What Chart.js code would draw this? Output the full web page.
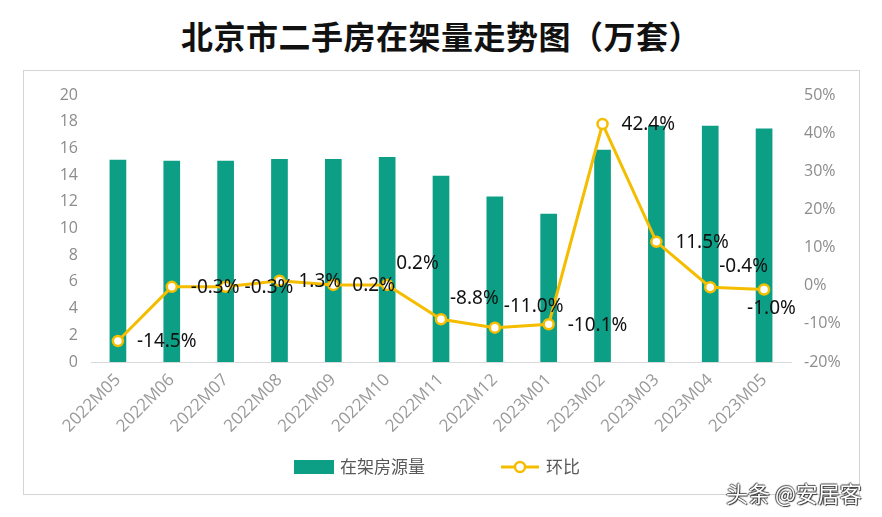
<!DOCTYPE html>
<html>
<head>
<meta charset="utf-8">
<script src="https://cdn.jsdelivr.net/npm/chart.js@4.4.0/dist/chart.umd.min.js"></script>
<style>
    body { margin: 0; width: 882px; height: 517px; background: #fff; position: relative; overflow: hidden; }
    #title { position: absolute; left: 0; top: 12px; width: 882px; text-align: center; font: bold 32px "Noto Sans CJK SC", sans-serif; color: #111; letter-spacing: 0.5px; }
    #box { position: absolute; left: 23px; top: 70px; width: 835px; height: 423px; border: 1px solid #d4d4d4; }
    #mark { position: absolute; left: 726px; top: 476px; font: 22px "Noto Sans CJK SC", sans-serif; color: #fff; text-shadow: 1px 1px 1px #333, -1px 0 1px #333, 0 -1px 1px #555; }
</style>
</head>
<body>
<div id="title">北京市二手房在架量走势图（万套）</div>
<div id="box"><canvas id="chart" width="835" height="423"></canvas></div>
<div id="mark">头条 @安居客</div>
<script>
const months = ['2022M05', '2022M06', '2022M07', '2022M08', '2022M09', '2022M10', '2022M11',
    '2022M12', '2023M01', '2023M02', '2023M03', '2023M04', '2023M05'];
const listings = [15.15, 15.07, 15.07, 15.2, 15.2, 15.35, 13.95, 12.4, 11.1, 15.9, 17.7, 17.7, 17.5];
const momChange = [-14.5, -0.3, -0.3, 1.3, 0.2, 0.2, -8.8, -11.0, -10.1, 42.4, 11.5, -0.4, -1.0];
const seriesNames = ['在架房源量', '环比'];

const green = '#0c9f85';
const yellow = '#f5bd00';

// where each percentage label sits next to its point
const labelSpots = ['r', 'r', 'r', 'r', 'r', 'a', 'a', 'a', 'r', 'r', 'r', 'a', 'b'];

const pctLabels = {
    id: 'pctLabels',
    afterDatasetsDraw(chart) {
        const ctx = chart.ctx;
        const meta = chart.getDatasetMeta(1);
        ctx.save();
        ctx.font = '19px "Noto Sans", sans-serif';
        ctx.fillStyle = '#111';
        ctx.textBaseline = 'middle';
        meta.data.forEach((pt, i) => {
            const txt = momChange[i].toFixed(1) + '%';
            let x = pt.x + 19, y = pt.y + 1;
            ctx.textAlign = 'left';
            if (labelSpots[i] === 'a') { x = pt.x + 9; y = pt.y - 21; }
            if (labelSpots[i] === 'b') { x = pt.x - 17; y = pt.y + 19; }
            ctx.fillText(txt, x, y);
        });
        ctx.restore();
    }
};

const legendDraw = {
    id: 'legendDraw',
    afterDraw(chart) {
        const ctx = chart.ctx;
        const y = 396;
        ctx.save();
        ctx.font = '17px "Noto Sans CJK SC", sans-serif';
        ctx.textBaseline = 'middle';
        ctx.textAlign = 'left';
        // bar item
        ctx.fillStyle = green;
        ctx.fillRect(270, y - 7, 40, 14);
        ctx.fillStyle = '#595959';
        ctx.fillText(seriesNames[0], 316, y);
        // line item
        ctx.strokeStyle = yellow;
        ctx.lineWidth = 3;
        ctx.beginPath();
        ctx.moveTo(477, y);
        ctx.lineTo(515, y);
        ctx.stroke();
        ctx.beginPath();
        ctx.arc(496, y, 5, 0, Math.PI * 2);
        ctx.fillStyle = '#fff';
        ctx.fill();
        ctx.lineWidth = 2.5;
        ctx.stroke();
        ctx.fillStyle = '#595959';
        ctx.fillText(seriesNames[1], 522, y);
        ctx.restore();
    }
};

const tickFont = { family: '"Open Sans", sans-serif', size: 16 };

new Chart(document.getElementById('chart'), {
    type: 'bar',
    data: {
        labels: months,
        datasets: [{
            type: 'bar',
            label: seriesNames[0],
            data: listings,
            backgroundColor: green,
            barPercentage: 0.62,
            categoryPercentage: 0.5,
            yAxisID: 'y',
            order: 2
        }, {
            type: 'line',
            label: seriesNames[1],
            data: momChange,
            borderColor: yellow,
            borderWidth: 3,
            pointRadius: 5,
            pointBorderWidth: 2.5,
            pointBackgroundColor: '#fff',
            pointBorderColor: yellow,
            tension: 0,
            yAxisID: 'y1',
            order: 1
        }]
    },
    options: {
        responsive: false,
        animation: false,
        layout: { padding: { top: 24, left: 0, right: 0, bottom: 0 } },
        plugins: { legend: { display: false }, tooltip: { enabled: false } },
        scales: {
            x: {
                grid: { display: false, drawTicks: false },
                border: { color: '#d9d9d9' },
                ticks: { color: '#999', font: { family: '"Open Sans", sans-serif', size: 17 }, minRotation: 45, maxRotation: 45, padding: 8 },
                afterFit: s => { s.height = 132; }
            },
            y: {
                position: 'left',
                min: 0, max: 20,
                grid: { display: false, drawTicks: false },
                border: { display: false },
                ticks: { stepSize: 2, color: '#8c8c8c', font: tickFont, padding: 13 },
                afterFit: s => { s.width = 67; }
            },
            y1: {
                position: 'right',
                min: -20, max: 50,
                grid: { display: false, drawTicks: false },
                border: { display: false },
                ticks: { stepSize: 10, color: '#8c8c8c', font: tickFont, padding: 13, callback: v => v + '%' },
                afterFit: s => { s.width = 68; }
            }
        }
    },
    plugins: [pctLabels, legendDraw]
});
</script>
</body>
</html>
